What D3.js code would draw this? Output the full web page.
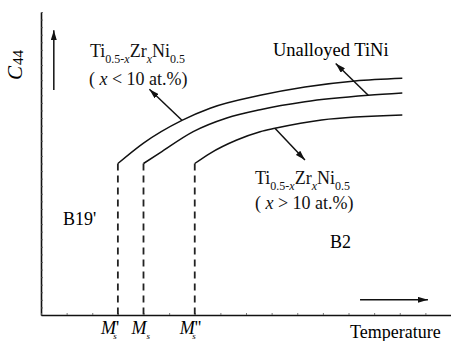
<!DOCTYPE html>
<html>
<head>
<meta charset="utf-8">
<script src="https://cdn.jsdelivr.net/npm/d3@7"></script>
<style>
  body { margin: 0; background: #fff; }
  svg, svg text, svg tspan { font-family: 'Liberation Serif', 'Times New Roman', Times, Tinos, 'Nimbus Roman', 'DejaVu Serif', 'Noto Serif', serif; }
</style>
</head>
<body>
<script>
// schematic units: x = temperature ticks, y = C44 ticks
const xTicks = d3.range(0, 17);
const yTicks = d3.range(0, 41);

// three C44(T) curves, each starting at its Ms temperature
const curveLow = [[3, 20], [4, 22.7], [5.5, 25.7], [6.6, 27.3], [8.55, 29.0], [10.3, 30.1], [12.25, 30.9], [14.1, 31.25]];
const curveTiNi = [[4, 20], [4.64, 21.4], [5.94, 24.2], [7.25, 26.0], [8.55, 27.1], [10.3, 28.15], [12.77, 29.0], [14.1, 29.3]];
const curveHigh = [[6, 20], [6.6, 21.35], [7.64, 23.1], [8.55, 24.2], [9.13, 24.65], [10.95, 25.75], [14.1, 26.4]];

// Ms temperatures (dashed lines)
const msTemps = [3, 4, 6];
const msPrimes = ["'", "", "''"];

// pointer arrows [from, to]
const pointers = [
    [[5.5, 25.7], [4.23, 29.8]],
    [[12.77, 29.0], [11.5, 33.2]],
    [[9.13, 24.65], [10.3, 20.45]],
    [[0.5, 29.7], [0.5, 37.6]],
    [[12.45, 2], [15.1, 2]]
];

const width = 451, height = 341;
const svg = d3.select('body').append('svg')
    .attr('width', width)
    .attr('height', height);

const x = d3.scaleLinear().domain([0, 16]).range([41, 451]);
const y = d3.scaleLinear().domain([0, 40]).range([315, 12]);

svg.append('defs').append('marker')
    .attr('id', 'head')
    .attr('viewBox', '0 -3 10 6')
    .attr('refX', 10)
    .attr('refY', 0)
    .attr('markerUnits', 'userSpaceOnUse')
    .attr('markerWidth', 10)
    .attr('markerHeight', 6)
    .attr('orient', 'auto')
    .append('path')
    .attr('d', 'M0,-3L10,0L0,3Z')
    .attr('fill', '#111');

// axes
const yAxis = svg.append('g')
    .attr('transform', `translate(${x(0)},0)`)
    .call(d3.axisRight(y).tickValues(yTicks).tickSize(2).tickSizeOuter(0).tickFormat(''));
const xAxis = svg.append('g')
    .attr('transform', `translate(0,${y(0)})`)
    .call(d3.axisTop(x).tickValues(xTicks).tickSize(2).tickSizeOuter(0).tickFormat(''));
[yAxis, xAxis].forEach(g => {
    g.select('.domain').attr('stroke', '#111').attr('stroke-width', 1.6);
    g.selectAll('.tick line').attr('stroke', '#555').attr('stroke-width', 0.8);
});

// dashed Ms lines
svg.append('g').selectAll('line')
    .data(msTemps)
    .enter()
    .append('line')
    .attr('x1', d => x(d)).attr('x2', d => x(d))
    .attr('y1', y(20)).attr('y2', y(0))
    .attr('stroke', '#222')
    .attr('stroke-width', 1.8)
    .attr('stroke-dasharray', '7,5');

// curves
const line = d3.line()
    .x(d => x(d[0]))
    .y(d => y(d[1]))
    .curve(d3.curveMonotoneX);
svg.append('g').selectAll('path')
    .data([curveLow, curveTiNi, curveHigh])
    .enter()
    .append('path')
    .attr('d', line)
    .attr('fill', 'none')
    .attr('stroke', '#111')
    .attr('stroke-width', 1.5);

// arrows
svg.append('g').selectAll('line')
    .data(pointers)
    .enter()
    .append('line')
    .attr('x1', d => x(d[0][0])).attr('y1', d => y(d[0][1]))
    .attr('x2', d => x(d[1][0])).attr('y2', d => y(d[1][1]))
    .attr('stroke', '#111')
    .attr('stroke-width', 1.5)
    .attr('marker-end', 'url(#head)');

// formula label: Ti(0.5-x) Zr(x) Ni(0.5), subscripts shifted down
const SUB = 6;
function formula(px, py) {
    const t = svg.append('text')
        .attr('x', px).attr('y', py)
        .attr('font-size', 18)
        .attr('fill', '#111');
    t.append('tspan').text('Ti');
    t.append('tspan').attr('font-size', 12).attr('dy', SUB).text('0.5-');
    t.append('tspan').attr('font-size', 12).attr('font-style', 'italic').text('x');
    t.append('tspan').attr('dy', -SUB).text('Zr');
    t.append('tspan').attr('font-size', 12).attr('font-style', 'italic').attr('dy', SUB).text('x');
    t.append('tspan').attr('dy', -SUB).text('Ni');
    t.append('tspan').attr('font-size', 12).attr('dy', SUB).text('0.5');
    return t;
}
function range(px, py, sign) {
    const t = svg.append('text').attr('x', px).attr('y', py).attr('font-size', 18).attr('fill', '#111');
    t.append('tspan').text('( ');
    t.append('tspan').attr('font-style', 'italic').text('x');
    t.append('tspan').text(` ${sign} 10 at.%)`);
}

formula(x(1.91), y(34.0));
range(x(1.87), y(30.4), '<');
formula(x(8.35), y(17.3));
range(x(8.35), y(14.0), '>');

svg.append('text').attr('x', x(9.05)).attr('y', y(34.2)).attr('font-size', 18.5).text('Unalloyed TiNi');
svg.append('text').attr('x', x(0.86)).attr('y', y(11.9)).attr('font-size', 18).text("B19'");
svg.append('text').attr('x', x(11.28)).attr('y', y(8.85)).attr('font-size', 18).text('B2');
svg.append('text').attr('x', x(12.06)).attr('y', 338).attr('font-size', 18).text('Temperature');

// C44 axis title
const c44 = svg.append('text')
    .attr('transform', 'translate(22,80) rotate(-90)')
    .attr('font-size', 21);
c44.append('tspan').attr('font-style', 'italic').text('C');
c44.append('tspan').attr('font-size', 15).attr('dx', 1).attr('dy', 1).text('44');

// Ms labels
const msShift = [-17, -12, -15];
msTemps.forEach((m, i) => {
    const t = svg.append('text')
        .attr('x', x(m) + msShift[i])
        .attr('y', 334)
        .attr('font-size', 18);
    t.append('tspan').attr('font-style', 'italic').text('M');
    if (msPrimes[i]) t.append('tspan').text(msPrimes[i]);
    t.append('tspan').attr('font-size', 9).attr('font-style', 'italic')
        .attr('dx', msPrimes[i] ? -3 - 3 * msPrimes[i].length : 0).attr('dy', 5).text('s');
});
</script>
</body>
</html>
